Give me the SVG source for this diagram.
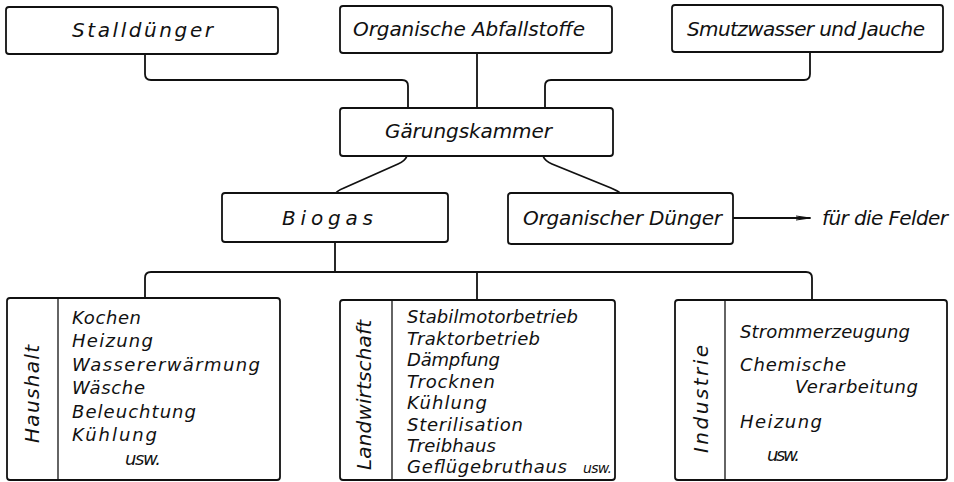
<svg xmlns="http://www.w3.org/2000/svg" width="954" height="482" viewBox="0 0 954 482">
<style>
  .box { fill: #fff; stroke: #111; stroke-width: 1.8; }
  .div { stroke: #111; stroke-width: 1.3; fill: none; }
  .con { fill: none; stroke: #111; stroke-width: 1.8; stroke-linecap: round; stroke-linejoin: round; }
  text { font-family: "DejaVu Sans", "Liberation Sans", sans-serif; font-style: italic; fill: #111; }
  .h { font-size: 20px; }
  .l { font-size: 18px; }
  .v { font-size: 20px; text-anchor: middle; }
</style>
<defs>
  <marker id="arr" viewBox="0 0 14 6" refX="14" refY="3" markerWidth="14" markerHeight="6" markerUnits="userSpaceOnUse" orient="auto">
    <path d="M0,1 L14,3 L0,5" fill="none" stroke="#111" stroke-width="1.2"/>
  </marker>
</defs>
<rect width="954" height="482" fill="#fff"/>

<g id="connectors">
  <path class="con" d="M145,54 V74 Q145,80 151,80 H402 Q408,80 408,86 V108"/>
  <path class="con" d="M477,53 V108"/>
  <path class="con" d="M810,52 V74 Q810,80 804,80 H551 Q545,80 545,86 V108"/>
  <path class="con" d="M407,156 Q405,161 398,164 L344,188 Q337,191 336,193"/>
  <path class="con" d="M543,156 Q545,161 552,164 L611,188 Q618,191 620,193"/>
  <path class="con" d="M335,242 V272"/>
  <path class="con" d="M145,298 V278 Q145,272 151,272 H806 Q812,272 812,278 V300"/>
  <path class="con" d="M477,272 V300"/>
  <path class="con" d="M733,218 H810" marker-end="url(#arr)"/>
</g>

<g id="stallduenger">
  <rect class="box" x="6" y="7" width="272" height="47" rx="3"/>
  <text class="h" x="72" y="37" textLength="141" lengthAdjust="spacing">Stalldünger</text>
</g>
<g id="organische-abfallstoffe">
  <rect class="box" x="340" y="6" width="272" height="47" rx="3"/>
  <text class="h" x="353" y="36" textLength="232" lengthAdjust="spacing">Organische Abfallstoffe</text>
</g>
<g id="smutzwasser">
  <rect class="box" x="672" y="5" width="271" height="47" rx="3"/>
  <text class="h" x="687" y="36" textLength="238" lengthAdjust="spacing">Smutzwasser und Jauche</text>
</g>
<g id="gaerungskammer">
  <rect class="box" x="340" y="108" width="273" height="48" rx="3"/>
  <text class="h" x="385" y="138" textLength="167" lengthAdjust="spacing">Gärungskammer</text>
</g>
<g id="biogas">
  <rect class="box" x="222" y="193" width="226" height="49" rx="3"/>
  <text class="h" x="282" y="225" textLength="91" lengthAdjust="spacing">Biogas</text>
</g>
<g id="organischer-duenger">
  <rect class="box" x="508" y="193" width="225" height="51" rx="3"/>
  <text class="h" x="523" y="225" textLength="199" lengthAdjust="spacing">Organischer Dünger</text>
</g>
<g id="fuer-die-felder">
  <text class="h" x="822" y="225" textLength="126" lengthAdjust="spacing">für die Felder</text>
</g>

<g id="haushalt">
  <rect class="box" x="7" y="298" width="273" height="182" rx="3"/>
  <line class="div" x1="58" y1="298" x2="58" y2="480"/>
  <text class="v" transform="translate(39,394) rotate(-90)" textLength="98" lengthAdjust="spacing">Haushalt</text>
  <text class="l" x="72" y="324" textLength="69" lengthAdjust="spacing">Kochen</text>
  <text class="l" x="72" y="347" textLength="81" lengthAdjust="spacing">Heizung</text>
  <text class="l" x="72" y="371" textLength="188" lengthAdjust="spacing">Wassererwärmung</text>
  <text class="l" x="72" y="394" textLength="73" lengthAdjust="spacing">Wäsche</text>
  <text class="l" x="72" y="418" textLength="124" lengthAdjust="spacing">Beleuchtung</text>
  <text class="l" x="72" y="441" textLength="85" lengthAdjust="spacing">Kühlung</text>
  <text class="l" x="125" y="465" textLength="36" lengthAdjust="spacing">usw.</text>
</g>

<g id="landwirtschaft">
  <rect class="box" x="340" y="300" width="275" height="180" rx="3"/>
  <line class="div" x1="392" y1="300" x2="392" y2="480"/>
  <text class="v" transform="translate(371,395) rotate(-90)" textLength="150" lengthAdjust="spacing">Landwirtschaft</text>
  <text class="l" x="407" y="323" textLength="171" lengthAdjust="spacing">Stabilmotorbetrieb</text>
  <text class="l" x="407" y="345" textLength="133" lengthAdjust="spacing">Traktorbetrieb</text>
  <text class="l" x="407" y="366" textLength="93" lengthAdjust="spacing">Dämpfung</text>
  <text class="l" x="407" y="388" textLength="88" lengthAdjust="spacing">Trocknen</text>
  <text class="l" x="407" y="409" textLength="80" lengthAdjust="spacing">Kühlung</text>
  <text class="l" x="407" y="431" textLength="116" lengthAdjust="spacing">Sterilisation</text>
  <text class="l" x="407" y="452" textLength="89" lengthAdjust="spacing">Treibhaus</text>
  <text class="l" x="407" y="473" textLength="160" lengthAdjust="spacing">Geflügebruthaus</text>
  <text class="l" x="583" y="473" textLength="29" lengthAdjust="spacing" style="font-size:14px">usw.</text>
</g>

<g id="industrie">
  <rect class="box" x="675" y="300" width="272" height="180" rx="3"/>
  <line class="div" x1="725" y1="300" x2="725" y2="480"/>
  <text class="v" transform="translate(708,399) rotate(-90)" textLength="108" lengthAdjust="spacing">Industrie</text>
  <text class="l" x="740" y="338" textLength="170" lengthAdjust="spacing">Strommerzeugung</text>
  <text class="l" x="740" y="371" textLength="106" lengthAdjust="spacing">Chemische</text>
  <text class="l" x="795" y="393" textLength="123" lengthAdjust="spacing">Verarbeitung</text>
  <text class="l" x="740" y="428" textLength="82" lengthAdjust="spacing">Heizung</text>
  <text class="l" x="767" y="461" textLength="33" lengthAdjust="spacing">usw.</text>
</g>
</svg>
